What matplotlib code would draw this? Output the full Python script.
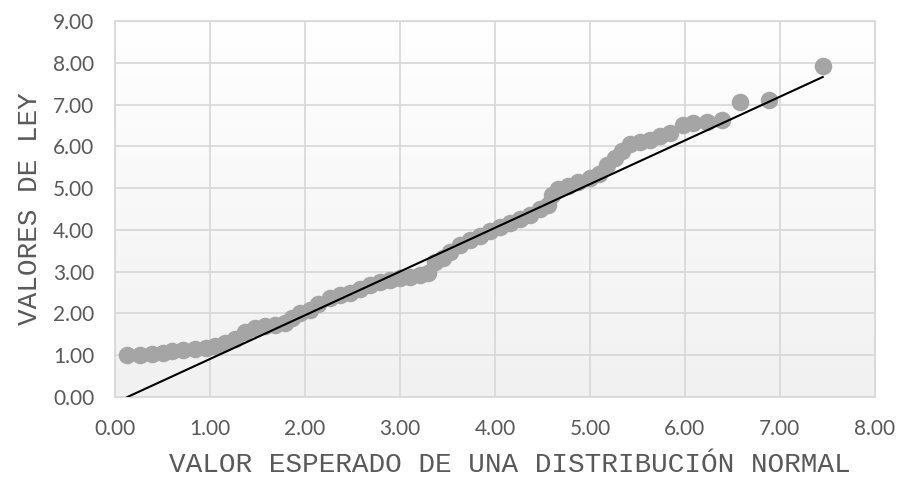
import numpy as np
import matplotlib.pyplot as plt
from matplotlib.colors import LinearSegmentedColormap

# valores (valor esperado normal vs. valor de ley)
valor_esperado = [0.13, 0.26, 0.39, 0.50, 0.60, 0.72, 0.84, 0.96, 1.05, 1.16,
                  1.26, 1.37, 1.47, 1.58, 1.68, 1.79, 1.86, 1.95, 2.05, 2.14,
                  2.26, 2.37, 2.47, 2.58, 2.68, 2.79, 2.89, 3.00, 3.10, 3.21,
                  3.29, 3.37, 3.45, 3.53, 3.63, 3.74, 3.84, 3.95, 4.05, 4.16,
                  4.26, 4.37, 4.47, 4.56, 4.60, 4.66, 4.77, 4.87, 5.00, 5.10,
                  5.18, 5.26, 5.34, 5.42, 5.53, 5.63, 5.74, 5.84, 5.98, 6.08,
                  6.23, 6.39, 6.58, 6.88, 7.45]
valores_ley = [1.00, 1.00, 1.02, 1.05, 1.10, 1.12, 1.15, 1.18, 1.22, 1.30,
               1.40, 1.55, 1.65, 1.70, 1.72, 1.78, 1.88, 2.00, 2.08, 2.22,
               2.36, 2.44, 2.50, 2.58, 2.68, 2.75, 2.80, 2.85, 2.87, 2.92,
               2.98, 3.22, 3.33, 3.47, 3.64, 3.76, 3.85, 3.97, 4.07, 4.16,
               4.26, 4.35, 4.50, 4.60, 4.83, 4.98, 5.05, 5.14, 5.24, 5.33,
               5.55, 5.72, 5.90, 6.05, 6.10, 6.15, 6.24, 6.32, 6.51, 6.56,
               6.59, 6.63, 7.06, 7.12, 7.92]

# recta de referencia
recta_x = [0.13, 7.45]
recta_y = [0.00, 7.66]

fig = plt.figure(figsize=(9, 4.8), dpi=100)
ax = fig.add_axes([0.1278, 0.1729, 0.8444, 0.7833])

# fondo con degradado (blanco arriba, gris claro abajo)
grad = np.linspace(1.0, 0.0, 256).reshape(-1, 1)
cmap = LinearSegmentedColormap.from_list('g', ['#f1f1f1', '#ffffff'])
ax.imshow(grad, extent=[0, 1, 0, 1], transform=ax.transAxes, aspect='auto',
          cmap=cmap, zorder=0)

ax.scatter(valor_esperado, valores_ley, s=160, color='#a5a5a5', zorder=3, linewidths=0)
ax.plot(recta_x, recta_y, color='black', linewidth=1.5, zorder=4)

ax.set_xlim(0, 8)
ax.set_ylim(0, 9)
ax.set_xticks(np.arange(0, 9, 1))
ax.set_yticks(np.arange(0, 10, 1))
ax.set_xticklabels(['%.2f' % v for v in range(9)])
ax.set_yticklabels(['%.2f' % v for v in range(10)])
ax.tick_params(length=0, labelsize=15, labelcolor='#595959')
ax.tick_params(axis='x', pad=16)
ax.tick_params(axis='y', pad=15)
for lab in ax.get_xticklabels() + ax.get_yticklabels():
    lab.set_fontfamily('Lato')

ax.grid(True, color='#d9d9d9', linewidth=1.3, zorder=1)
ax.set_axisbelow(True)
for s in ax.spines.values():
    s.set_color('#d9d9d9')
    s.set_linewidth(1.3)

ax.set_xlabel('VALOR ESPERADO DE UNA DISTRIBUCIÓN NORMAL', fontfamily='Liberation Mono',
              fontsize=20, color='#595959')
ax.set_ylabel('VALORES DE LEY', fontfamily='Liberation Mono',
              fontsize=20, color='#595959')
ax.xaxis.set_label_coords(0.52, -0.18)
ax.yaxis.set_label_coords(-0.112, 0.5)
ax.xaxis.label.set_va('center')
ax.yaxis.label.set_va('center')

plt.savefig('out.png', dpi=100)
